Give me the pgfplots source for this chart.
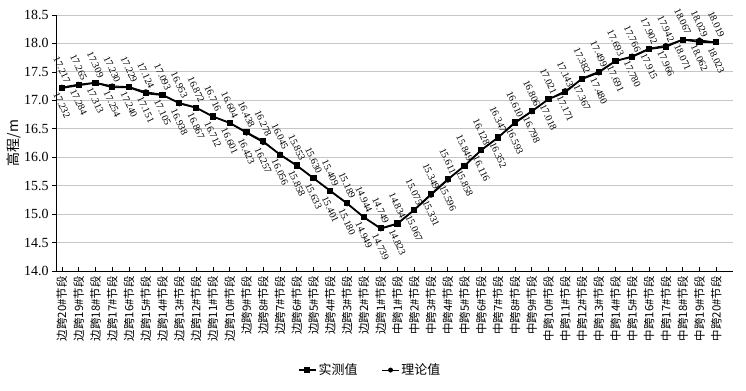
\documentclass[border=0pt]{standalone}
\usepackage{fontspec}
\setmainfont{Liberation Serif}
\newfontfamily\cjk{Noto Sans CJK SC}
\usepackage{pgfplots}
\pgfplotsset{compat=1.18}
\usepackage{pgfplotstable}
\pgfplotstableread{
x y
0 17.217
1 17.265
2 17.309
3 17.230
4 17.229
5 17.124
6 17.093
7 16.953
8 16.872
9 16.716
10 16.604
11 16.438
12 16.278
13 16.045
14 15.853
15 15.630
16 15.409
17 15.189
18 14.944
19 14.749
20 14.834
21 15.075
22 15.349
23 15.611
24 15.849
25 16.128
26 16.347
27 16.610
28 16.806
29 17.021
30 17.143
31 17.382
32 17.499
33 17.693
34 17.766
35 17.902
36 17.942
37 18.067
38 18.029
39 18.019
}\measured
\pgfplotstableread{
x y
0 17.232
1 17.284
2 17.313
3 17.254
4 17.240
5 17.151
6 17.105
7 16.938
8 16.867
9 16.712
10 16.601
11 16.423
12 16.257
13 16.056
14 15.858
15 15.633
16 15.401
17 15.180
18 14.949
19 14.739
20 14.823
21 15.067
22 15.331
23 15.596
24 15.858
25 16.116
26 16.352
27 16.593
28 16.798
29 17.018
30 17.171
31 17.367
32 17.480
33 17.691
34 17.780
35 17.915
36 17.966
37 18.071
38 18.062
39 18.023
}\theory
\begin{document}
\begin{tikzpicture}
\useasboundingbox (-56bp,-120bp) rectangle (690bp,271bp);
\begin{axis}[
  at={(0,0)}, anchor=south west,
  width=677bp, height=256bp, scale only axis,
  xmin=-0.35, xmax=40,
  ymin=14, ymax=18.5,
  ytick={14,14.5,...,18.5},
  yticklabel style={/pgf/number format/fixed,/pgf/number format/fixed zerofill,/pgf/number format/precision=1,font=\fontsize{14}{16}\selectfont},
  /pgf/number format/assume math mode=true,
  xtick={0,...,39},
  xticklabels={边跨20\#节段,边跨19\#节段,边跨18\#节段,边跨17\#节段,边跨16\#节段,边跨15\#节段,边跨14\#节段,边跨13\#节段,边跨12\#节段,边跨11\#节段,边跨10\#节段,边跨9\#节段,边跨8\#节段,边跨7\#节段,边跨6\#节段,边跨5\#节段,边跨4\#节段,边跨3\#节段,边跨2\#节段,边跨1\#节段,中跨1\#节段,中跨2\#节段,中跨3\#节段,中跨4\#节段,中跨5\#节段,中跨6\#节段,中跨7\#节段,中跨8\#节段,中跨9\#节段,中跨10\#节段,中跨11\#节段,中跨12\#节段,中跨13\#节段,中跨14\#节段,中跨15\#节段,中跨16\#节段,中跨17\#节段,中跨18\#节段,中跨19\#节段,中跨20\#节段},
  xticklabel style={rotate=90, anchor=east, font=\cjk\fontsize{11.5}{12}\selectfont, inner sep=1bp, xshift=-4bp},
  axis x line*=bottom, axis y line*=left,
  x axis line style={-}, y axis line style={-},
  xtick align=inside, ytick align=outside,
  major tick length=4bp,
  tick style={black, line width=0.6pt},
  ymajorgrids, grid style={gray!45, line width=0.8pt},
  ylabel={\cjk 高程/m}, ylabel style={font=\fontsize{14}{16}\selectfont, yshift=-4bp},
  legend style={at={(0.464,-0.387)}, anchor=center, draw=none, legend columns=2, font=\cjk\fontsize{13}{15}\selectfont, /tikz/every even column/.append style={column sep=22bp}},
  nodes near coords={\pgfmathprintnumber[fixed,fixed zerofill,precision=3]{\pgfplotspointmeta}},
  nodes near coords style={font=\fontsize{10}{11}\selectfont, inner sep=0pt},
  clip=false,
]
\addplot[black, line width=1.8pt, mark=square*, mark size=2.2pt, mark options={solid},
  every node near coord/.append style={yshift=18bp, rotate=-65, anchor=center}] table {\measured};
\addlegendentry{实测值}
\addplot[black, line width=0.9pt, mark=*, mark size=2pt,
  every node near coord/.append style={yshift=-18bp, rotate=-65, anchor=center}] table {\theory};
\addlegendentry{理论值}
\end{axis}
\end{tikzpicture}
\end{document}
